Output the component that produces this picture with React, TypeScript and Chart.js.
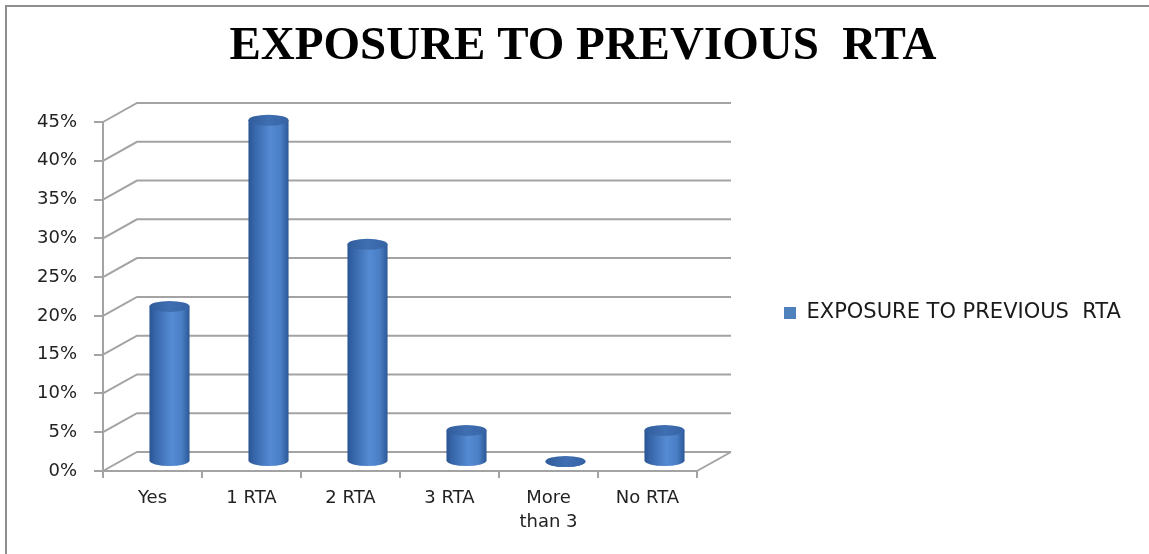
import { useEffect, useRef } from 'react';
import { Chart, registerables } from 'chart.js';

Chart.register(...registerables);

// ---------- data ----------
const TITLE = 'EXPOSURE TO PREVIOUS  RTA';
const SERIES_LABEL = 'EXPOSURE TO PREVIOUS  RTA';
const categories: (string | string[])[] = ['Yes', '1 RTA', '2 RTA', '3 RTA', ['More', 'than 3'], 'No RTA'];
const values = [20, 44, 28, 4, 0, 4];
const Y_MIN = 0;
const Y_MAX = 45;
const Y_STEP = 5;

// ---------- layout / style ----------
const W = 1149;
const H = 554;
const PLOT_LEFT = 103;
const PLOT_RIGHT = 697;
const PLOT_TOP = 122;
const PLOT_BOTTOM = 471;
const DEPTH_X = 34;
const DEPTH_Y = -19;
const TITLE_CENTER_X = 583;
const LEGEND_X = 784;
const LEGEND_PAD = LEGEND_X - PLOT_RIGHT;
const LEGEND_BOX = 12;
const LEGEND_FONT_SIZE = 21;
const TICK_FONT_SIZE = 18;
const SANS = '"DejaVu Sans", "Noto Sans", sans-serif';
const SERIF = '"Liberation Serif", "Times New Roman", serif';
const GRID = '#a3a3a3';
const TEXT = '#222222';
const BAR_COLOR = '#4f81bd';
const TITLE_SIZE = 47;
const TITLE_PAD_TOP = 19;

function measure(text: string, font: string): number {
  const c = document.createElement('canvas').getContext('2d');
  if (!c) return 0;
  c.font = font;
  return c.measureText(text).width;
}

const cylinders = {
  id: 'cylinders3d',
  beforeDatasetsDraw(chart: any) {
    const { ctx, chartArea, scales } = chart;
    const yScale = scales.y;
    ctx.save();
    // back wall gridlines + left side connectors
    ctx.strokeStyle = GRID;
    ctx.lineWidth = 2;
    yScale.ticks.forEach((t: any) => {
      const py = yScale.getPixelForValue(t.value);
      ctx.beginPath();
      ctx.moveTo(chartArea.left, py);
      ctx.lineTo(chartArea.left + DEPTH_X, py + DEPTH_Y);
      ctx.lineTo(chartArea.right + DEPTH_X, py + DEPTH_Y);
      ctx.stroke();
    });
    // floor right edge
    ctx.beginPath();
    ctx.moveTo(chartArea.right, chartArea.bottom);
    ctx.lineTo(chartArea.right + DEPTH_X, chartArea.bottom + DEPTH_Y);
    ctx.stroke();

    // cylinders at mid depth
    const meta = chart.getDatasetMeta(0);
    meta.data.forEach((bar: any) => {
      const p = bar.getProps(['x', 'y', 'base', 'width'], true);
      const cx = p.x + DEPTH_X / 2;
      const top = p.y + DEPTH_Y / 2;
      const bottom = p.base + DEPTH_Y / 2;
      const r = p.width / 2;
      const ry = 5.5;

      const g = ctx.createLinearGradient(cx - r, 0, cx + r, 0);
      g.addColorStop(0, '#2a5594');
      g.addColorStop(0.15, '#3766aa');
      g.addColorStop(0.55, '#558bd3');
      g.addColorStop(0.8, '#4a7fc6');
      g.addColorStop(1, '#2c5896');
      ctx.fillStyle = g;
      ctx.beginPath();
      ctx.moveTo(cx - r, top);
      ctx.lineTo(cx - r, bottom);
      ctx.ellipse(cx, bottom, r, ry, 0, Math.PI, 0, true);
      ctx.lineTo(cx + r, top);
      ctx.closePath();
      ctx.fill();

      const gt = ctx.createLinearGradient(cx - r, 0, cx + r, 0);
      gt.addColorStop(0, '#315c9b');
      gt.addColorStop(0.5, '#3f6fb2');
      gt.addColorStop(1, '#3763a4');
      ctx.fillStyle = gt;
      ctx.beginPath();
      ctx.ellipse(cx, top, r, ry, 0, 0, Math.PI * 2);
      ctx.fill();
    });
    ctx.restore();
    return false;
  },
};

export default function App() {
  const ref = useRef<HTMLCanvasElement>(null);

  useEffect(() => {
    if (!ref.current) return;
    const legendFont = `normal ${LEGEND_FONT_SIZE}px ${SANS}`;
    const tw = measure(SERIES_LABEL, legendFont);
    const legendWidth = LEGEND_PAD + LEGEND_BOX + LEGEND_FONT_SIZE / 2 + tw + 10;
    const padR = Math.max(0, W - PLOT_RIGHT - legendWidth);
    const labelW = measure('45%', `normal ${TICK_FONT_SIZE}px ${SANS}`);
    const labelLeft = PLOT_LEFT - 9 - 17 - labelW - 2;
    const padL = Math.max(0, Math.min(2 * TITLE_CENTER_X - W + padR, labelLeft));
    const yAxisW = PLOT_LEFT - padL;

    const chart = new Chart(ref.current, {
      type: 'bar',
      data: {
        labels: categories as any,
        datasets: [
          {
            label: SERIES_LABEL,
            data: values,
            backgroundColor: BAR_COLOR,
            borderWidth: 0,
            categoryPercentage: 1,
            barPercentage: 0.405,
          },
        ],
      },
      options: {
        responsive: false,
        animation: false,
        layout: { padding: { left: padL, right: padR, top: 0, bottom: 0 } },
        plugins: {
          tooltip: { enabled: false },
          title: {
            display: true,
            text: TITLE,
            color: '#000',
            font: { family: SERIF, size: TITLE_SIZE, weight: 'bold', lineHeight: 1.2 },
            padding: { top: TITLE_PAD_TOP, bottom: PLOT_TOP - TITLE_PAD_TOP - TITLE_SIZE * 1.2 },
          },
          legend: {
            display: true,
            position: 'right',
            fullSize: false,
            align: 'center',
            maxWidth: 2000,
            title: { display: true, text: '', font: { size: 10, lineHeight: 1.2 }, padding: { top: 10.5, bottom: 10.5 } },
            labels: {
              boxWidth: LEGEND_BOX,
              boxHeight: LEGEND_BOX,
              padding: LEGEND_PAD,
              color: '#1a1a1a',
              font: { family: SANS, size: LEGEND_FONT_SIZE },
            },
          },
        },
        scales: {
          x: {
            type: 'category',
            offset: true,
            grid: {
              display: true,
              offset: true,
              drawOnChartArea: false,
              drawTicks: true,
              tickLength: 7,
              color: GRID,
              lineWidth: 2,
            },
            border: { display: true, color: GRID, width: 2 },
            ticks: {
              color: TEXT,
              font: { family: SANS, size: TICK_FONT_SIZE, lineHeight: 1.3 },
              padding: 9,
              maxRotation: 0,
              minRotation: 0,
              autoSkip: false,
            },
            afterFit: (s: any) => {
              s.height = H - PLOT_BOTTOM;
            },
          },
          y: {
            min: Y_MIN,
            max: Y_MAX,
            ticks: {
              stepSize: Y_STEP,
              callback: (v: any) => `${v}%`,
              color: TEXT,
              font: { family: SANS, size: TICK_FONT_SIZE },
              padding: 17,
            },
            grid: {
              drawOnChartArea: false,
              drawTicks: true,
              tickLength: 9,
              color: GRID,
              lineWidth: 2,
            },
            border: { display: true, color: GRID, width: 2 },
            afterFit: (s: any) => {
              s.width = yAxisW;
            },
          },
        },
      },
      plugins: [cylinders],
    });
    return () => chart.destroy();
  }, []);

  return (
    <div style={{ position: 'absolute', left: 0, top: 0, width: W, height: H, background: '#fff', overflow: 'hidden' }}>
      <canvas ref={ref} width={W} height={H} style={{ position: 'absolute', left: 0, top: 0 }} />
      <div
        style={{
          position: 'absolute',
          left: 5,
          top: 5,
          right: 0,
          bottom: 0,
          borderTop: '2px solid #8f8f8f',
          borderLeft: '2px solid #8f8f8f',
          pointerEvents: 'none',
        }}
      />
    </div>
  );
}
